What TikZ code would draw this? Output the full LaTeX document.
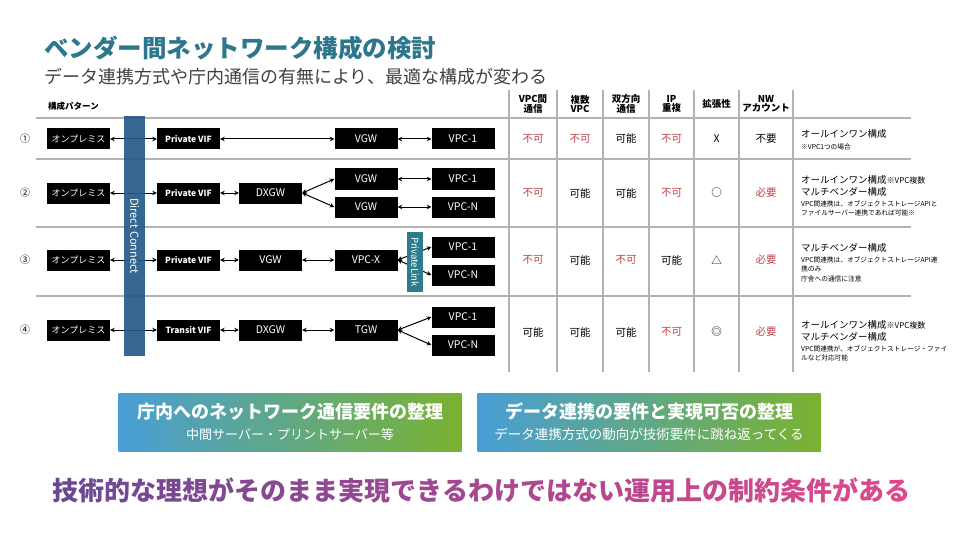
\documentclass[tikz,border=0pt]{standalone}
\usepackage{fontspec}
\setmainfont{Noto Sans CJK JP}
\usepackage{xcolor}
\usepackage{tikz}
\usetikzlibrary{arrows.meta, positioning}
\definecolor{cTeal}{RGB}{45,118,140}
\definecolor{cText}{RGB}{64,64,64}
\definecolor{cRule}{RGB}{178,178,178}
\definecolor{cNG}{RGB}{192,64,72}
\definecolor{cDX}{RGB}{36,90,136}
\definecolor{cLink}{RGB}{44,124,142}
\definecolor{cBlue}{RGB}{72,158,214}
\definecolor{cGreen}{RGB}{122,178,48}
\definecolor{cPurple}{RGB}{108,72,148}
\definecolor{cPink}{RGB}{224,72,140}
\newcommand{\px}[1]{\fontsize{#1}{#1}\selectfont}

\begin{document}
\begin{tikzpicture}[x=1pt, y=-1pt, >={Stealth[length=4.5pt,width=4.5pt]},
	net/.style={fill=black, text=white, minimum width=63pt, minimum height=21pt, inner sep=0pt, font=\px{10.5}},
	op/.style={net, font=\px{9}}, vif/.style={net, font=\bfseries\px{8.5}},
	rule/.style={cRule, line width=2pt}, col/.style={cRule, line width=1.5pt},
	link/.style={<->, line width=1pt},
	ok/.style={font=\px{10.5}}, ng/.style={font=\px{10.5}, text=cNG},
	hdr/.style={font=\bfseries\px{9.5}, align=center, inner sep=0pt},
	note/.style={align=left, anchor=west, inner sep=0pt, font=\fontsize{6.7}{9.5}\selectfont},
	req/.style={minimum width=343pt, minimum height=58pt, left color=cBlue, right color=cGreen, text=white, align=center, inner sep=0pt, font=\fontsize{13}{21}\selectfont}]
	\useasboundingbox (0,0) rectangle (960,540);
	\node[anchor=west, inner sep=0pt, font=\bfseries\px{24.5}, text=cTeal] (title) at (44,48) {ベンダー間ネットワーク構成の検討};
	\node[anchor=west, inner sep=0pt, font=\px{18}, text=cText] (subtitle) at (44,77) {データ連携方式や庁内通信の有無により、最適な構成が変わる};
	\node[anchor=west, inner sep=0pt, font=\bfseries\px{8.5}] (pattern) at (48,106) {構成パターン};
	\foreach \cx/\ct [count=\i] in {533/{VPC間\\通信},580/{複数\\VPC},626/{双方向\\通信},671.5/{IP\\重複},716.5/拡張性,766/{NW\\アカウント}} \node[hdr] (h\i) at (\cx,104) {\ct};
	\foreach \x in {509,557,603,649,694,739,793} \draw[col] (\x,90) -- (\x,372);
	\foreach \y in {118,159,227,296} \draw[rule] (36,\y) -- (911,\y);
	\node[font=\px{10}] (n1) at (25,139) {①}; \node[font=\px{10}] (n2) at (25,193) {②};
	\node[font=\px{10}] (n3) at (25,260) {③}; \node[font=\px{10}] (n4) at (25,330) {④};

	\node[op] (op1) at (78.5,139) {オンプレミス}; \node[vif] (vif1) at (188.5,139) {Private VIF};
	\node[net] (vgw1) at (366,139) {VGW}; \node[net] (vpc1a) at (463,139) {VPC-1};
	\draw[link] (op1) -- (vif1); \draw[link] (vif1) -- (vgw1); \draw[link] (vgw1) -- (vpc1a);

	\node[op] (op2) at (78.5,193) {オンプレミス}; \node[vif] (vif2) at (188.5,193) {Private VIF}; \node[net] (dx2) at (270.5,193) {DXGW};
	\node[net] (vgw2a) at (366,179) {VGW}; \node[net] (vgw2b) at (366,207) {VGW};
	\node[net] (vpc2a) at (463,179) {VPC-1}; \node[net] (vpc2b) at (463,207) {VPC-N};
	\draw[link] (op2) -- (vif2); \draw[link] (vif2) -- (dx2); \draw[link] (dx2.east) -- (vgw2a.west); \draw[link] (dx2.east) -- (vgw2b.west);
	\draw[link] (vgw2a) -- (vpc2a); \draw[link] (vgw2b) -- (vpc2b);

	\node[op] (op3) at (78.5,260) {オンプレミス}; \node[vif] (vif3) at (188.5,260) {Private VIF}; \node[net] (vgw3) at (270.5,260) {VGW};
	\node[net] (vpcx) at (366,260) {VPC-X}; \node[net] (vpc3a) at (463,247) {VPC-1}; \node[net] (vpc3b) at (463,275) {VPC-N};
	\draw[link] (op3) -- (vif3); \draw[link] (vif3) -- (vgw3); \draw[link] (vgw3) -- (vpcx);
	\draw[link] (vpcx.east) -- (vpc3a.west); \draw[link] (vpcx.east) -- (vpc3b.west);
	\node[fill=cLink, text=white, rotate=-90, minimum width=60pt, minimum height=16pt, inner sep=0pt, font=\px{9.5}] (plink) at (415,262) {PrivateLink};

	\node[op] (op4) at (78.5,330) {オンプレミス}; \node[vif] (vif4) at (188.5,330) {Transit VIF}; \node[net] (dx4) at (270.5,330) {DXGW};
	\node[net] (tgw) at (366,330) {TGW}; \node[net] (vpc4a) at (463,317) {VPC-1}; \node[net] (vpc4b) at (463,345) {VPC-N};
	\draw[link] (op4) -- (vif4); \draw[link] (vif4) -- (dx4); \draw[link] (dx4) -- (tgw);
	\draw[link] (tgw.east) -- (vpc4a.west); \draw[link] (tgw.east) -- (vpc4b.west);

	\node[fill=cDX, fill opacity=.92, text opacity=1, text=white, rotate=-90, minimum width=240pt, minimum height=21pt, inner sep=0pt, font=\px{11}] (dc) at (134.5,236) {Direct Connect};

	\foreach \cx/\cs/\ct [count=\i] in {533/ng/不可,580/ng/不可,626/ok/可能,671.5/ng/不可,716.5/ok/X,766/ok/不要} \node[\cs] (ca\i) at (\cx,139) {\ct};
	\foreach \cx/\cs/\ct [count=\i] in {533/ng/不可,580/ok/可能,626/ok/可能,671.5/ng/不可,716.5/ok/○,766/ng/必要} \node[\cs] (cb\i) at (\cx,193) {\ct};
	\foreach \cx/\cs/\ct [count=\i] in {533/ng/不可,580/ok/可能,626/ng/不可,671.5/ok/可能,716.5/ok/△,766/ng/必要} \node[\cs] (cc\i) at (\cx,260) {\ct};
	\foreach \cx/\cs/\ct [count=\i] in {533/ok/可能,580/ok/可能,626/ok/可能,671.5/ng/不可,716.5/ok/◎,766/ng/必要} \node[\cs] (cd\i) at (\cx,332) {\ct};

	\node[note] (r1) at (801,140) {{\px{9.5}オールインワン構成}\\[2pt]※VPC1つの場合};
	\node[note] (r2) at (801,196) {{\px{9.5}オールインワン構成}{\px{8}※VPC複数}\\[3pt]{\px{9.5}マルチベンダー構成}\\[1pt]VPC間連携は、オブジェクトストレージAPIと\\ファイルサーバー連携であれば可能※};
	\node[note] (r3) at (801,263) {{\px{9.5}マルチベンダー構成}\\[1pt]VPC間連携は、オブジェクトストレージAPI連\\携のみ\\庁舎への通信に注意};
	\node[note] (r4) at (801,341) {{\px{9.5}オールインワン構成}{\px{8}※VPC複数}\\[3pt]{\px{9.5}マルチベンダー構成}\\[1pt]VPC間連携が、オブジェクトストレージ・ファイ\\ルなど対応可能};

	\node[req] (req1) at (290,422) {{\bfseries\px{18}庁内へのネットワーク通信要件の整理}\\{\px{13}中間サーバー・プリントサーバー等}};
	\node[req] (req2) at (649,422) {{\bfseries\px{18}データ連携の要件と実現可否の整理}\\{\px{13.5}データ連携方式の動向が技術要件に跳ね返ってくる}};
	\node[inner sep=0pt, font=\bfseries\px{26}] (concl) at (481,490) {\foreach \ch [count=\i] in {技,術,的,な,理,想,が,そ,の,ま,ま,実,現,で,き,る,わ,け,で,は,な,い,運,用,上,の,制,約,条,件,が,あ,る}{\pgfmathtruncatemacro\pct{100*(\i-1)/32}\color{cPink!\pct!cPurple}\ch}};
\end{tikzpicture}
\end{document}
